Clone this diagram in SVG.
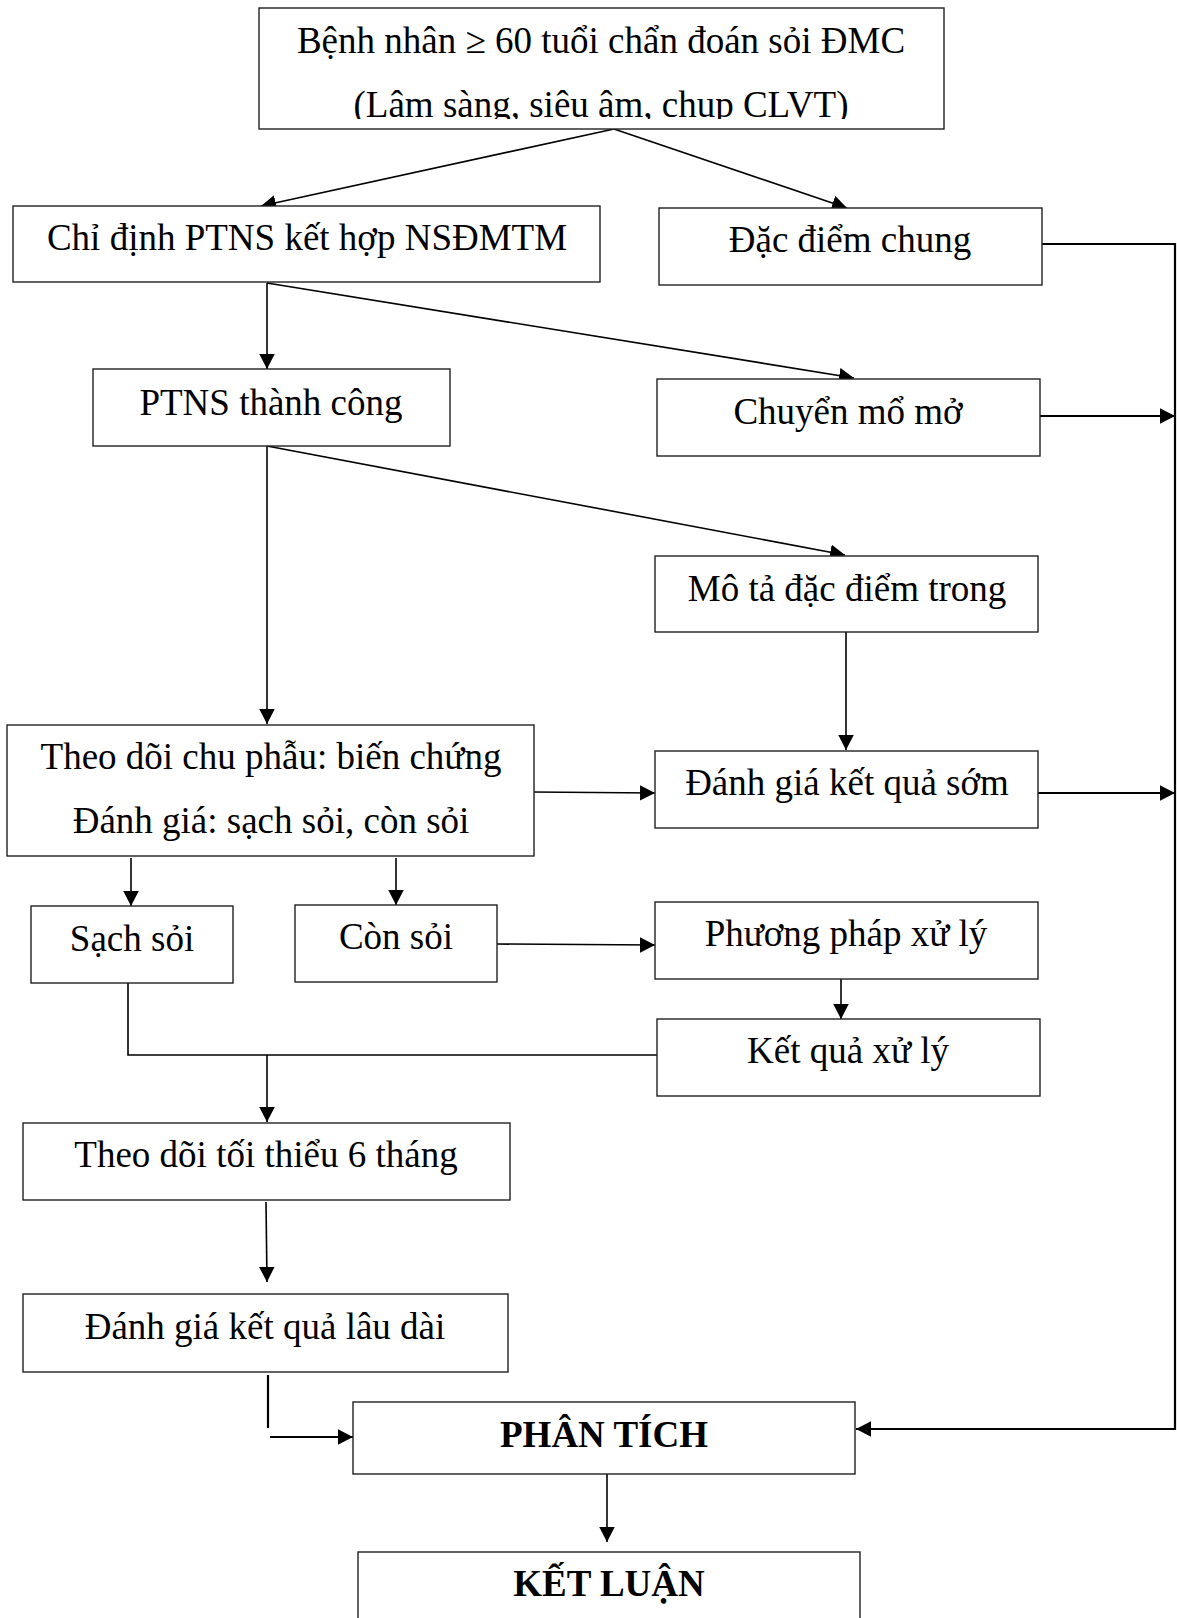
<svg xmlns="http://www.w3.org/2000/svg" width="1177" height="1618" viewBox="0 0 1177 1618">
<style>
  .box { fill: #ffffff; stroke: #222222; stroke-width: 1.4; }
  .t { font-family: "Liberation Serif", "Times New Roman", serif; font-size: 37px; fill: #000000; text-anchor: middle; }
  .b { font-weight: bold; }
  .c { fill: none; stroke: #000000; stroke-width: 1.6; }
  .w { stroke-width: 2.2; }
</style>
<defs>
  <marker id="arr" markerUnits="userSpaceOnUse" markerWidth="16" markerHeight="16" refX="15" refY="7.75" orient="auto">
    <path d="M0,0 L15,7.75 L0,15.5 z" fill="#000000"/>
  </marker>
  <clipPath id="clip1"><rect x="259" y="8" width="685" height="111"/></clipPath>
</defs>
<rect x="0" y="0" width="1177" height="1618" fill="#ffffff"/>

<g id="connectors">
  <line class="c" x1="614" y1="129" x2="261" y2="206" marker-end="url(#arr)"/>
  <line class="c" x1="614" y1="129" x2="847" y2="208" marker-end="url(#arr)"/>
  <line class="c" x1="267" y1="283" x2="267" y2="369" marker-end="url(#arr)"/>
  <line class="c" x1="267" y1="283" x2="854" y2="378" marker-end="url(#arr)"/>
  <line class="c" x1="267" y1="446" x2="267" y2="724" marker-end="url(#arr)"/>
  <line class="c" x1="267" y1="446" x2="845" y2="555" marker-end="url(#arr)"/>
  <line class="c" x1="846" y1="632" x2="846" y2="750" marker-end="url(#arr)"/>
  <line class="c" x1="533" y1="792" x2="655" y2="793" marker-end="url(#arr)"/>
  <line class="c w" x1="1038" y1="793" x2="1175" y2="793" marker-end="url(#arr)"/>
  <line class="c w" x1="1040" y1="416" x2="1175" y2="416" marker-end="url(#arr)"/>
  <path class="c w" d="M1042,244 H1175 V1429 H856" marker-end="url(#arr)"/>
  <line class="c" x1="131" y1="858" x2="131" y2="906" marker-end="url(#arr)"/>
  <line class="c" x1="396" y1="858" x2="396" y2="905" marker-end="url(#arr)"/>
  <line class="c" x1="497" y1="944" x2="655" y2="945" marker-end="url(#arr)"/>
  <line class="c" x1="841" y1="979" x2="841" y2="1019" marker-end="url(#arr)"/>
  <path class="c" d="M128,983 V1055 H657"/>
  <line class="c" x1="267" y1="1055" x2="267" y2="1122" marker-end="url(#arr)"/>
  <line class="c" x1="266" y1="1202" x2="267" y2="1282" marker-end="url(#arr)"/>
  <line class="c w" x1="268" y1="1375" x2="268" y2="1428"/>
  <line class="c w" x1="270" y1="1437" x2="353" y2="1437" marker-end="url(#arr)"/>
  <line class="c" x1="607" y1="1470" x2="607" y2="1542" marker-end="url(#arr)"/>
</g>

<g id="n1">
  <rect class="box" x="259" y="8" width="685" height="121"/>
  <text class="t" x="601" y="53">Bệnh nhân ≥ 60 tuổi chẩn đoán sỏi ĐMC</text>
  <text class="t" x="601" y="117" clip-path="url(#clip1)">(Lâm sàng, siêu âm, chup CLVT)</text>
</g>
<g id="n2">
  <rect class="box" x="13" y="206" width="587" height="76"/>
  <text class="t" x="307" y="250">Chỉ định PTNS kết hợp NSĐMTM</text>
</g>
<g id="n3">
  <rect class="box" x="659" y="208" width="383" height="77"/>
  <text class="t" x="850" y="252">Đặc điểm chung</text>
</g>
<g id="n4">
  <rect class="box" x="93" y="369" width="357" height="77"/>
  <text class="t" x="271" y="415">PTNS thành công</text>
</g>
<g id="n5">
  <rect class="box" x="657" y="379" width="383" height="77"/>
  <text class="t" x="848" y="424">Chuyển mổ mở</text>
</g>
<g id="n6">
  <rect class="box" x="655" y="556" width="383" height="76"/>
  <text class="t" x="847" y="601">Mô tả đặc điểm trong</text>
</g>
<g id="n7">
  <rect class="box" x="7" y="725" width="527" height="131"/>
  <text class="t" x="271" y="769">Theo dõi chu phẫu: biến chứng</text>
  <text class="t" x="271" y="833">Đánh giá: sạch sỏi, còn sỏi</text>
</g>
<g id="n8">
  <rect class="box" x="655" y="751" width="383" height="77"/>
  <text class="t" x="847" y="795">Đánh giá kết quả sớm</text>
</g>
<g id="n9">
  <rect class="box" x="31" y="906" width="202" height="77"/>
  <text class="t" x="132" y="951">Sạch sỏi</text>
</g>
<g id="n10">
  <rect class="box" x="295" y="905" width="202" height="77"/>
  <text class="t" x="396" y="949">Còn sỏi</text>
</g>
<g id="n11">
  <rect class="box" x="655" y="902" width="383" height="77"/>
  <text class="t" x="846" y="946">Phương pháp xử lý</text>
</g>
<g id="n12">
  <rect class="box" x="657" y="1019" width="383" height="77"/>
  <text class="t" x="848" y="1063">Kết quả xử lý</text>
</g>
<g id="n13">
  <rect class="box" x="23" y="1123" width="487" height="77"/>
  <text class="t" x="266" y="1167">Theo dõi tối thiểu 6 tháng</text>
</g>
<g id="n14">
  <rect class="box" x="23" y="1294" width="485" height="78"/>
  <text class="t" x="265" y="1339">Đánh giá kết quả lâu dài</text>
</g>
<g id="n15">
  <rect class="box" x="353" y="1402" width="502" height="72"/>
  <text class="t b" x="604" y="1447">PHÂN TÍCH</text>
</g>
<g id="n16">
  <rect class="box" x="358" y="1552" width="502" height="80"/>
  <text class="t b" x="609" y="1596">KẾT LUẬN</text>
</g>
</svg>
